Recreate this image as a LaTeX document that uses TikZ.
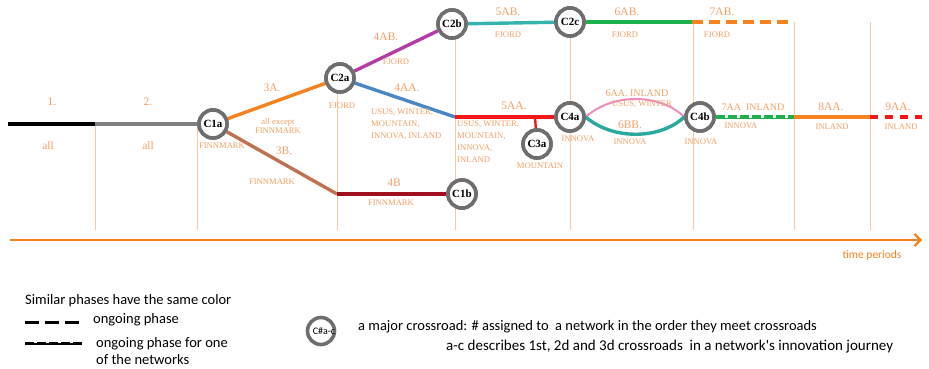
\documentclass[tikz,border=0pt]{standalone}
\usepackage{fontspec}
\setmainfont{Liberation Serif}
\newfontfamily\legendfont{Carlito}
\usetikzlibrary{arrows.meta}
\definecolor{lbl}{HTML}{F2A066}
\definecolor{gridc}{HTML}{F7C9A2}
\definecolor{axisc}{HTML}{F58220}
\definecolor{ringc}{HTML}{6E6E6E}
\definecolor{c3a}{HTML}{F7821E}
\definecolor{c3b}{HTML}{C0714F}
\definecolor{c4b}{HTML}{A0101E}
\definecolor{c4ab}{HTML}{B43CAA}
\definecolor{c4aa}{HTML}{4A87C6}
\definecolor{c5aa}{HTML}{F01818}
\definecolor{c5ab}{HTML}{35B3AE}
\definecolor{c6ab}{HTML}{1DB14B}
\definecolor{c6aa}{HTML}{F28AC0}
\definecolor{c6bb}{HTML}{2AAA9E}
\definecolor{c2}{HTML}{808080}
\begin{document}
\begin{tikzpicture}[x=1pt,y=-1pt,
  xroad/.style={circle, draw=ringc, line width=3.6pt, fill=white, minimum size=28pt, inner sep=0pt,
    font=\bfseries\fontsize{11}{11}\selectfont},
  phase/.style={line width=3.4pt},
  lab/.style={text=lbl, font=\fontsize{8.6}{12}\selectfont, align=center, inner sep=0pt},
  numlab/.style={text=lbl, font=\fontsize{11.5}{12}\selectfont, inner sep=0pt},
  gridline/.style={draw=gridc, line width=0.9pt},
  legtext/.style={font=\legendfont\fontsize{14.5}{17}\selectfont, anchor=west, inner sep=0pt, align=left}]
\useasboundingbox (0,0) rectangle (929,369);

% period boundaries
\foreach \n/\x/\t in {g1/95/124, g2/197/124, g3/337/78, g4/455/24, g5/570/22, g6/693/22, g7/794/22, g8/870/22}{
  \coordinate (\n top) at (\x,\t);
  \coordinate (\n bot) at (\x,230);
  \draw[gridline] (\n top) -- (\n bot);
}

% crossroads (placed first so that the phases can be drawn between them)
\node[xroad] (C1a) at (213,124) {C1a};
\node[xroad] (C2a) at (340,78) {C2a};
\node[xroad] (C2b) at (452,24) {C2b};
\node[xroad] (C2c) at (570,22) {C2c};
\node[xroad] (C1b) at (462,194) {C1b};
\node[xroad] (C3a) at (537,144) {C3a};
\node[xroad] (C4a) at (570,117) {C4a};
\node[xroad] (C4b) at (700,117) {C4b};

% junctions and free ends
\coordinate (start) at (8,124);
\coordinate (p2) at (95,124);
\coordinate (j3b) at (337,194);
\coordinate (j4aa) at (455,117);
\coordinate (j5aa) at (535,117);
\coordinate (e6ab) at (692,22);
\coordinate (e7ab) at (794,22);
\coordinate (e7aa) at (794,117);
\coordinate (e8aa) at (870,117);
\coordinate (e9aa) at (922,117);

% phases
\draw[phase, black] (start) -- (p2);
\draw[phase, c2] (p2) -- (C1a);
\draw[phase, c3a] (C1a) -- (C2a);
\draw[phase, c3b] (C1a) -- (j3b);
\draw[phase, c4b] (j3b) -- (C1b);
\draw[phase, c4ab] (C2a) -- (C2b);
\draw[phase, c4aa] (C2a) -- (j4aa);
\draw[phase, c5aa] (j4aa) -- (C4a);
\draw[line width=2.4pt, c5aa] (j5aa) -- (C3a);
\draw[phase, c5ab] (C2b) -- (C2c);
\draw[phase, c6ab] (C2c) -- (e6ab);
\draw[phase, c3a, dash pattern=on 11pt off 6pt] (e6ab) -- (e7ab);
\draw[line width=2pt, c6aa] (C4a.east) .. controls (612,93) and (660,93) .. (C4b.west);
\draw[phase, c6bb] (C4a.east) .. controls (612,140) and (660,140) .. (C4b.west);
\draw[line width=1.2pt, c6ab] ([yshift=-1.2pt]C4b.east) -- ([yshift=-1.2pt]e7aa);
\draw[phase, c6ab, dash pattern=on 9pt off 3pt] (C4b.east) -- (e7aa);
\draw[phase, c3a] (e7aa) -- (e8aa);
\draw[phase, c5aa, dash pattern=on 8pt off 7pt] (e8aa) -- (e9aa);

% rings drawn again over the line ends
\foreach \n in {C1a,C2a,C2b,C2c,C1b,C3a,C4a,C4b}{
  \node[xroad] at (\n) {\n};
}

% time axis
\coordinate (ax0) at (10,240);
\coordinate (ax1) at (922,240);
\draw[axisc, line width=2.2pt, -{Straight Barb[length=6pt,width=12pt]}] (ax0) -- (ax1);
\node[text=axisc, font=\legendfont\fontsize{11.5}{12}\selectfont, inner sep=0pt] (tp) at (872,255) {time periods};

% phase labels
\node[numlab] (l1) at (52,102) {1.};
\node[numlab] (l1b) at (48,146) {all};
\node[numlab] (l2) at (148,102) {2.};
\node[numlab] (l2b) at (148,146) {all};
\node[lab] (f1) at (222,146) {FINNMARK};
\node[numlab] (l3a) at (272,88) {3A.};
\node[lab] (l3ax) at (278,126) {all except\\[-3pt]FINNMARK};
\node[numlab] (l3b) at (284,151) {3B.};
\node[lab] (l3bx) at (272,182) {FINNMARK};
\node[lab] (fj2a) at (342,106) {FJORD};
\node[numlab] (l4ab) at (386,37) {4AB.};
\node[lab] (l4abx) at (396,62) {FJORD};
\node[numlab] (l4aa) at (407,88) {4AA.};
\node[lab, align=left, anchor=north west] (l4aax) at (371,109) {USUS, WINTER,\\MOUNTAIN,\\INNOVA, INLAND};
\node[lab, align=left, anchor=north west] (l5aax) at (457,121) {USUS, WINTER,\\MOUNTAIN,\\INNOVA,\\INLAND};
\node[numlab] (l5aa) at (514,106) {5AA.};
\node[numlab] (l4b) at (394,183) {4B};
\node[lab] (l4bx) at (391,203) {FINNMARK};
\node[lab] (mtn) at (540,166) {MOUNTAIN};
\node[lab] (inn4a) at (578,139) {INNOVA};
\node[numlab] (l5ab) at (508,12) {5AB.};
\node[lab] (l5abx) at (508,35) {FJORD};
\node[numlab] (l6ab) at (627,12) {6AB.};
\node[lab] (l6abx) at (625,35) {FJORD};
\node[numlab] (l7ab) at (722,12) {7AB.};
\node[lab] (l7abx) at (717,35) {FJORD};
\node[lab, font=\fontsize{10}{10}\selectfont] (l6aa) at (637,93) {6AA.\ INLAND};
\node[lab] (l6aax) at (642,104) {USUS, WINTER};
\node[numlab] (l6bb) at (630,125) {6BB.};
\node[lab] (l6bbx) at (630,142) {INNOVA};
\node[lab] (inn4b) at (701,142) {INNOVA};
\node[lab, font=\fontsize{10}{10}\selectfont] (l7aa) at (753,107) {7AA\ \ INLAND};
\node[lab] (l7aax) at (741,126) {INNOVA};
\node[numlab] (l8aa) at (831,107) {8AA.};
\node[lab] (l8aax) at (832,127) {INLAND};
\node[numlab] (l9aa) at (898,107) {9AA.};
\node[lab] (l9aax) at (901,127) {INLAND};

% legend
\node[legtext] (lg0) at (25,301) {Similar phases have the same color};
\coordinate (lga0) at (25,322);
\coordinate (lga1) at (79,322);
\draw[line width=3pt, black, dash pattern=on 14pt off 6pt] (lga0) -- (lga1);
\node[legtext] (lg1) at (93,320) {ongoing phase};
\coordinate (lgb0) at (25,343);
\coordinate (lgb1) at (82,343);
\draw[line width=1.1pt, black] ([yshift=-1pt]lgb0) -- ([yshift=-1pt]lgb1);
\draw[line width=3pt, black, dash pattern=on 9pt off 3pt] (lgb0) -- (lgb1);
\node[legtext] (lg2) at (96,351) {ongoing phase for one\\of the networks};
\node[circle, draw=ringc, line width=3.6pt, fill=white, minimum size=27pt, inner sep=0pt] (lgc) at (321,331) {};
\node[font=\legendfont\fontsize{10}{10}\selectfont, inner sep=0pt] (lgct) at (324,331) {C\#a-c};
\node[legtext] (lg3) at (358,327) {a major crossroad: \# assigned to\ \ a network in the order they meet crossroads};
\node[legtext, font=\legendfont\fontsize{15}{17}\selectfont] (lg4) at (446,347) {a-c describes 1st, 2d and 3d crossroads\ \ in a network's innovation journey};
\end{tikzpicture}
\end{document}
